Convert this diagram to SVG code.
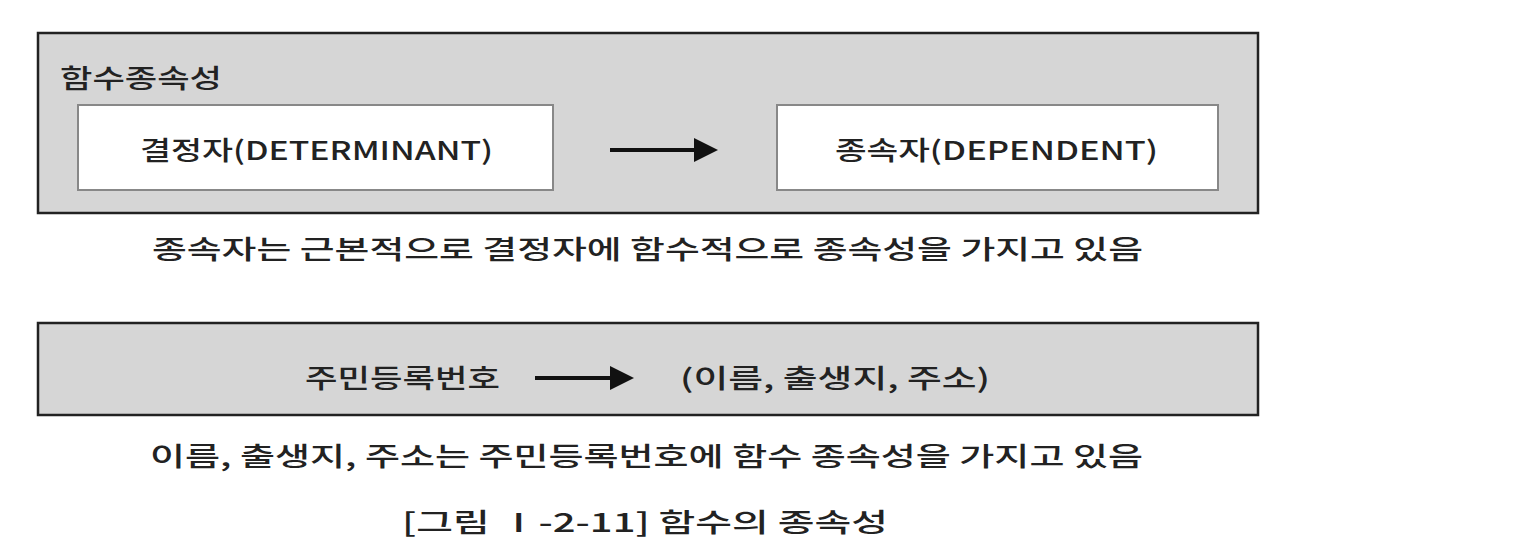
<svg xmlns="http://www.w3.org/2000/svg" width="1532" height="558" viewBox="0 0 1532 558">
<style>
.panel{fill:#d6d6d6;stroke:#222;stroke-width:2.5}
.box{fill:#fff;stroke:#888;stroke-width:2}
.t{font-family:"Noto Sans CJK KR","Noto Sans",sans-serif;font-size:26px;fill:#222;font-weight:500}
.b{font-weight:500}
.conn{stroke:#111;stroke-width:4;fill:none}
</style>
<defs>
<marker id="ah" markerWidth="6" markerHeight="6" refX="1" refY="3" orient="auto" markerUnits="strokeWidth">
<path d="M0,0 L6,3 L0,6 Z" fill="#111"/>
</marker>
</defs>
<rect width="1532" height="558" fill="#fff"/>
<g id="panel1">
<rect class="panel" x="38" y="33" width="1220" height="180"/>
<text class="t" x="60" y="88" textLength="162" lengthAdjust="spacingAndGlyphs">함수종속성</text>
</g>
<g id="determinant">
<rect class="box" x="78" y="105" width="475" height="85"/>
<text class="t" x="140" y="160" textLength="353" lengthAdjust="spacingAndGlyphs">결정자(DETERMINANT)</text>
</g>
<g id="dependent">
<rect class="box" x="777" y="105" width="441" height="85"/>
<text class="t" x="835" y="160" textLength="323" lengthAdjust="spacingAndGlyphs">종속자(DEPENDENT)</text>
</g>
<g id="caption1">
<text class="t b" x="152" y="259" textLength="991" lengthAdjust="spacingAndGlyphs">종속자는 근본적으로 결정자에 함수적으로 종속성을 가지고 있음</text>
</g>
<g id="panel2">
<rect class="panel" x="38" y="323" width="1220" height="92"/>
</g>
<g id="rrn">
<text class="t b" x="305" y="388" textLength="195" lengthAdjust="spacingAndGlyphs">주민등록번호</text>
</g>
<g id="attrs">
<text class="t b" x="680" y="388" textLength="310" lengthAdjust="spacingAndGlyphs">(이름, 출생지, 주소)</text>
</g>
<g id="caption2">
<text class="t b" x="150" y="466" textLength="993" lengthAdjust="spacingAndGlyphs">이름, 출생지, 주소는 주민등록번호에 함수 종속성을 가지고 있음</text>
</g>
<g id="figcaption">
<text class="t" x="402" y="532" textLength="486" lengthAdjust="spacingAndGlyphs">[그림 Ⅰ-2-11] 함수의 종속성</text>
</g>
<g id="connectors">
<line class="conn" x1="610" y1="150" x2="698" y2="150" marker-end="url(#ah)"/>
<line class="conn" x1="535" y1="378" x2="614" y2="378" marker-end="url(#ah)"/>
</g>
</svg>
